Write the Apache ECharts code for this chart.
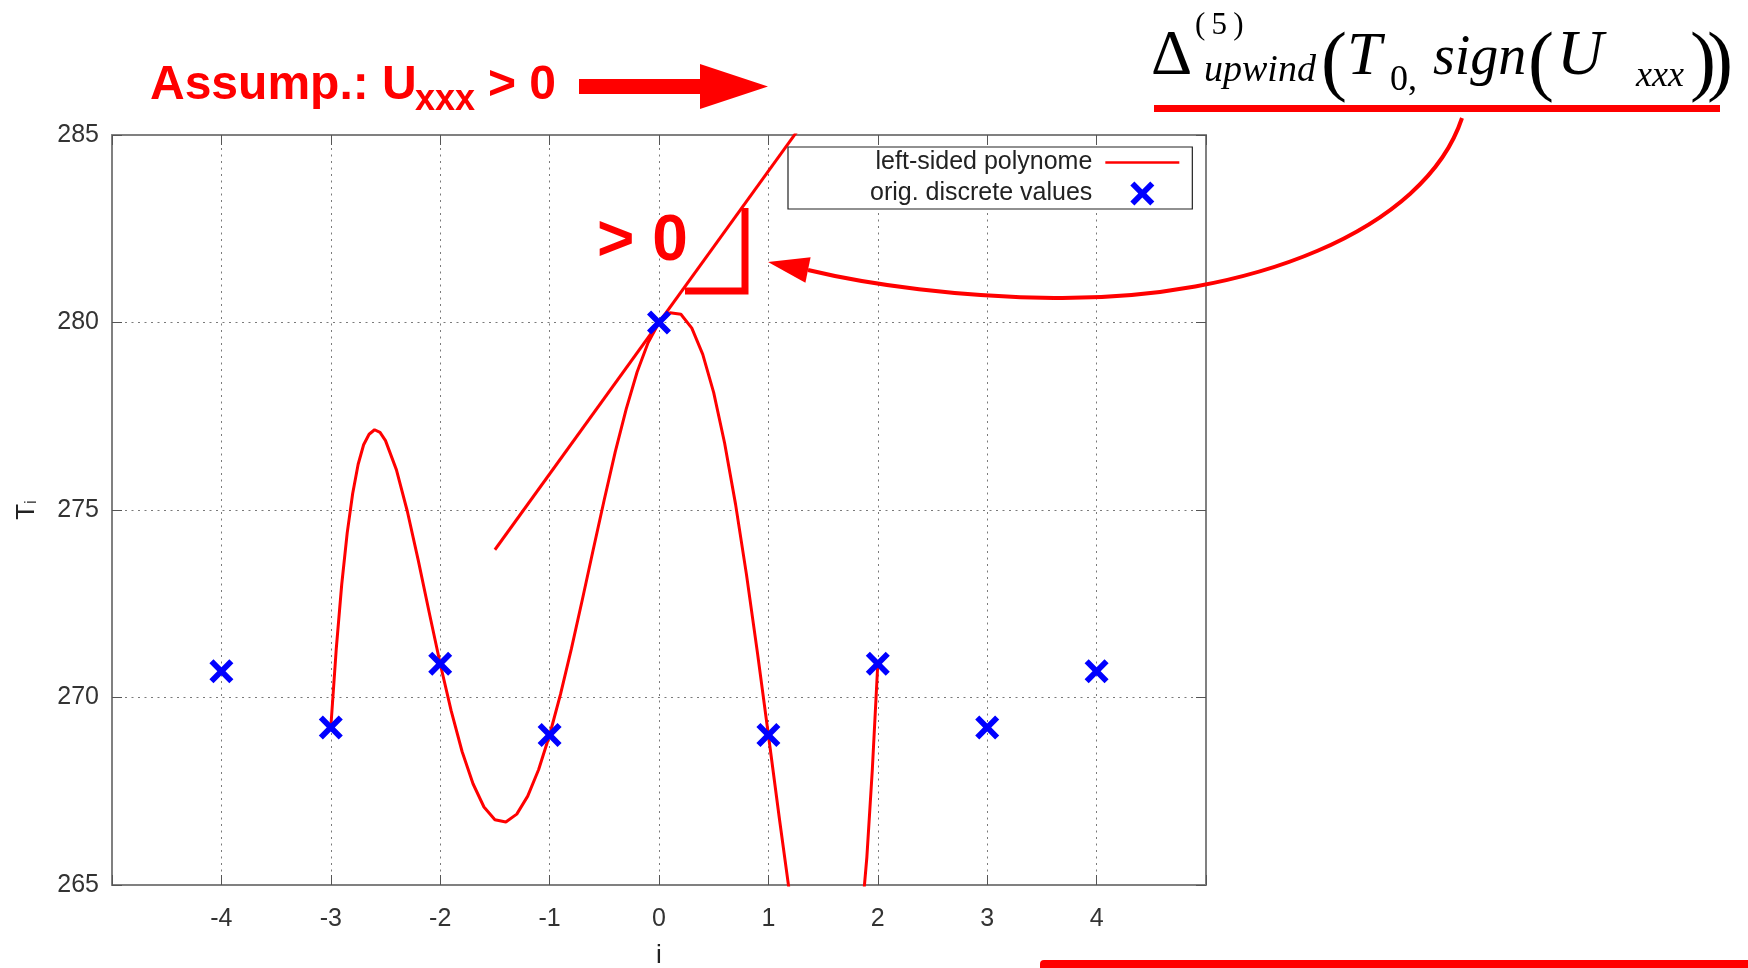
<!DOCTYPE html>
<html>
<head>
<meta charset="utf-8">
<script src="https://cdn.jsdelivr.net/npm/echarts@6/dist/echarts.min.js"></script>
<style>
html,body{margin:0;padding:0;background:#fff;}
#chart{width:1748px;height:968px;}
</style>
</head>
<body>
<div id="chart"></div>
<script>
// ---- data ----
const xTicks = [-4, -3, -2, -1, 0, 1, 2, 3, 4];
const yTicks = [265, 270, 275, 280, 285];
const pointI = [-4, -3, -2, -1, 0, 1, 2, 3, 4];
const pointT = [270.7, 269.2, 270.9, 269.0, 280.0, 269.0, 270.9, 269.2, 270.7];
const polyI = [-3, -2.95, -2.9, -2.85, -2.8, -2.75, -2.7, -2.65, -2.6, -2.55, -2.5, -2.4, -2.3, -2.2, -2.1, -2.0,
  -1.9, -1.8, -1.7, -1.6, -1.5, -1.4, -1.3, -1.2, -1.1, -1.0, -0.9, -0.8, -0.7, -0.6, -0.5, -0.4,
  -0.3, -0.2, -0.1, 0, 0.1, 0.2, 0.3, 0.4, 0.5, 0.6, 0.7, 0.8, 0.9, 1.0, 1.1, 1.2, 1.3, 1.4, 1.5,
  1.6, 1.7, 1.8, 1.9, 1.95, 2.0];
const polyT = [269.2, 271.30, 273.02, 274.39, 275.44, 276.22, 276.74, 277.02, 277.14, 277.07, 276.85, 276.07, 274.96,
  273.65, 272.26, 270.9, 269.65, 268.56, 267.70, 267.08, 266.74, 266.68, 266.89, 267.37, 268.08,
  269.0, 270.09, 271.31, 272.62, 273.96, 275.28, 276.55, 277.69, 278.68, 279.46, 280.0, 280.26,
  280.22, 279.85, 279.15, 278.13, 276.78, 275.15, 273.27, 271.19, 269.0, 266.78, 264.64, 262.71,
  261.14, 260.12, 259.82, 260.49, 262.37, 265.74, 268.08, 270.9];
const tangentI = [-1.5, 1.3];
const tangentT = [273.94, 285.25];
const seriesNames = ['left-sided polynome', 'orig. discrete values'];

const RED = '#ff0000';
const SANS = '"Liberation Sans", Arial, sans-serif';
const SERIF = '"Liberation Serif", "Times New Roman", serif';
const xMark = 'path://M0,17 L17,0 L50,33 L83,0 L100,17 L67,50 L100,83 L83,100 L50,67 L17,100 L0,83 L33,50 Z';
const lineIcon = 'path://M0,0 L100,0 L100,3.6 L0,3.6 Z';

const zip = (a, b) => a.map((v, i) => [v, b[i]]);

function txt(text, x, baseline, size, opts) {
  opts = opts || {};
  const fam = opts.serif ? SERIF : SANS;
  const k = opts.serif ? 0.25 : 0.24;
  return {
    type: 'text', x: x, y: baseline - k * size, z: 100,
    style: {
      text: text,
      font: (opts.italic ? 'italic ' : '') + (opts.bold ? 'bold ' : '') + size + 'px ' + fam,
      fill: opts.color || '#000',
      align: 'left', verticalAlign: 'middle'
    }
  };
}

const axisCommon = {
  type: 'value',
  axisLine: { show: true, onZero: false, lineStyle: { color: '#808080', width: 2 } },
  axisTick: { show: true, inside: true, length: 10, lineStyle: { color: '#555', width: 1 } }
};
const gridLine = { show: true, lineStyle: { color: '#7a7a7a', width: 1, type: [2, 4.5] } };

const chart = echarts.init(document.getElementById('chart'), null, { renderer: 'canvas' });
chart.setOption({
  backgroundColor: '#fff',
  animation: false,
  grid: { left: 112, top: 135, right: 542, bottom: 83, containLabel: false, outerBoundsMode: 'none' },
  xAxis: [
    Object.assign({}, axisCommon, {
      min: -5, max: 5, interval: 1, position: 'bottom',
      axisLabel: {
        margin: 22, fontSize: 25, color: '#333', fontFamily: SANS,
        formatter: v => (xTicks.indexOf(v) >= 0 ? String(v) : '')
      },
      splitLine: gridLine,
      name: 'i', nameLocation: 'middle', nameGap: 58,
      nameTextStyle: { fontSize: 26, color: '#222', fontFamily: SANS }
    }),
    Object.assign({}, axisCommon, {
      min: -5, max: 5, interval: 1, position: 'top',
      axisLabel: { show: false }, splitLine: { show: false }
    })
  ],
  yAxis: [
    Object.assign({}, axisCommon, {
      min: 265, max: 285, interval: 5, position: 'left',
      axisLabel: {
        margin: 13, fontSize: 25, color: '#333', fontFamily: SANS,
        formatter: v => (yTicks.indexOf(v) >= 0 ? String(v) : '')
      },
      splitLine: gridLine,
      name: '{t|T}{s|i}', nameLocation: 'middle', nameGap: 72, nameRotate: 90,
      nameTextStyle: {
        color: '#222',
        rich: {
          t: { fontSize: 26, fontFamily: SANS, color: '#222', lineHeight: 40, verticalAlign: 'bottom' },
          s: { fontSize: 17, fontFamily: SANS, color: '#222', lineHeight: 17, verticalAlign: 'bottom' }
        }
      }
    }),
    Object.assign({}, axisCommon, {
      min: 265, max: 285, interval: 5, position: 'right',
      axisLabel: { show: false }, splitLine: { show: false }
    })
  ],
  legend: {
    data: [{ name: seriesNames[0], icon: lineIcon }, { name: seriesNames[1] }],
    orient: 'vertical', left: 788, top: 147,
    align: 'right',
    itemWidth: 74, itemHeight: 24, itemGap: 6,
    padding: [3, 13, 3, 82],
    borderColor: '#222', borderWidth: 1.2, backgroundColor: '#fff', borderRadius: 0,
    selectedMode: false,
    formatter: name => '{a|' + name + '}',
    textStyle: {
      fontFamily: SANS, fontSize: 25, color: '#222',
      rich: { a: { fontFamily: SANS, fontSize: 25, color: '#222', padding: [0, 8, 0, 0] } }
    }
  },
  series: [
    {
      name: seriesNames[0], type: 'line', xAxisIndex: 0, yAxisIndex: 0,
      data: zip(polyI, polyT), smooth: false, symbol: 'none', clip: true,
      lineStyle: { color: RED, width: 3 }, itemStyle: { color: RED }, z: 3
    },
    {
      name: 'tangent', type: 'line', xAxisIndex: 0, yAxisIndex: 0,
      data: zip(tangentI, tangentT), symbol: 'none', clip: true,
      lineStyle: { color: RED, width: 3 }, itemStyle: { color: RED }, z: 3
    },
    {
      name: seriesNames[1], type: 'scatter', xAxisIndex: 0, yAxisIndex: 0,
      data: zip(pointI, pointT), symbol: xMark, symbolSize: 24, symbolKeepAspect: true,
      itemStyle: { color: '#0000ff', opacity: 1 }, z: 5
    }
  ],
  graphic: [
    // "Assump.: U_xxx > 0"
    txt('Assump.: U', 150, 97, 48, { bold: true, color: RED }),
    txt('xxx', 415, 109, 36, { bold: true, color: RED }),
    txt('> 0', 488, 97, 48, { bold: true, color: RED }),
    { type: 'polygon', z: 100, shape: { points: [[579, 79], [700, 79], [700, 64], [768, 86.5], [700, 109], [700, 94], [579, 94]] }, style: { fill: RED } },
    // formula
    txt('\u0394', 1151, 73, 64, { serif: true }),
    txt('(\u20095\u2009)', 1195, 34, 31, { serif: true }),
    txt('upwind', 1204, 81, 38, { serif: true, italic: true }),
    txt('(', 1321, 85, 78, { serif: true }),
    txt('T', 1347, 73, 62, { serif: true, italic: true }),
    txt('0,', 1390, 90, 36, { serif: true }),
    txt('sign', 1433, 73, 56, { serif: true, italic: true }),
    txt('(', 1528, 85, 78, { serif: true }),
    txt('U', 1557, 73, 64, { serif: true, italic: true }),
    txt('xxx', 1636, 86, 36, { serif: true, italic: true }),
    txt(')', 1690, 85, 78, { serif: true }),
    txt(')', 1707, 85, 78, { serif: true }),
    { type: 'rect', z: 100, shape: { x: 1154, y: 105, width: 566, height: 7 }, style: { fill: RED } },
    // curved arrow
    { type: 'bezierCurve', z: 100, shape: { x1: 1462, y1: 118, cpx1: 1425, cpy1: 230, cpx2: 1250, cpy2: 300, x2: 1054, y2: 298 }, style: { stroke: RED, lineWidth: 4, fill: null } },
    { type: 'bezierCurve', z: 100, shape: { x1: 1054, y1: 298, cpx1: 960, cpy1: 297, cpx2: 870, cpy2: 285, x2: 808, y2: 270 }, style: { stroke: RED, lineWidth: 4, fill: null } },
    { type: 'polygon', z: 100, shape: { points: [[768, 262], [810.6, 257.3], [805.4, 282.7]] }, style: { fill: RED } },
    // "> 0" with right-angle mark
    txt('> 0', 597, 258, 64, { bold: true, color: RED }),
    { type: 'polyline', z: 100, shape: { points: [[685, 291], [745, 291], [745, 208]] }, style: { stroke: RED, lineWidth: 7, lineJoin: 'miter', fill: null } },
    // bottom-right bar
    { type: 'rect', z: 100, shape: { x: 1040, y: 960, width: 720, height: 16, r: 4 }, style: { fill: RED } }
  ]
});
</script>
</body>
</html>
